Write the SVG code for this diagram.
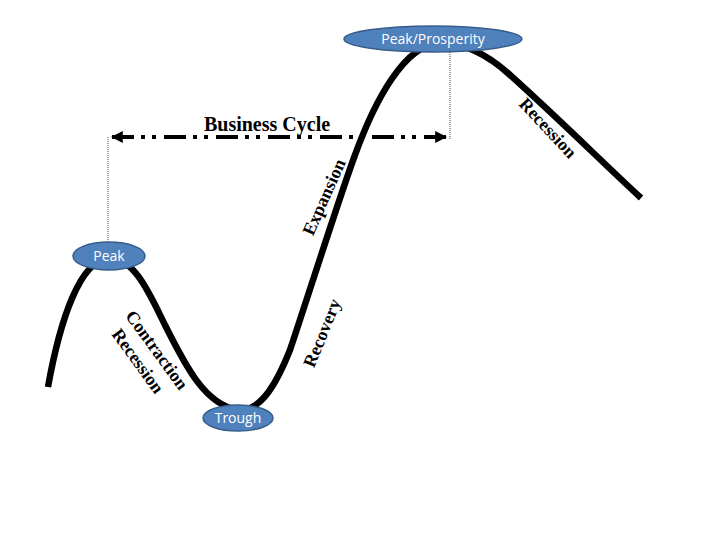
<svg xmlns="http://www.w3.org/2000/svg" width="720" height="540" viewBox="0 0 720 540">
<style>
.curve{fill:none;stroke:#000;stroke-width:6.5;stroke-linecap:butt}
.node ellipse{fill:#4F81BD;stroke:#385D8A;stroke-width:1.5}
.node text{font-family:"Open Sans","Liberation Sans",sans-serif;font-size:14px;fill:#fff;text-anchor:middle}
.lbl{font-family:"Liberation Serif","Times New Roman",serif;font-size:18px;font-weight:bold;fill:#000;text-anchor:middle}
.guide{stroke:#444;stroke-width:1;stroke-dasharray:1 1;fill:none}
.span{stroke:#000;stroke-width:4;stroke-dasharray:22 7 4 7 4 8;fill:none}
</style>
<defs>
<marker id="ah" viewBox="0 0 10 10" refX="9" refY="5" markerWidth="3" markerHeight="3" orient="auto-start-reverse" markerUnits="strokeWidth">
<path d="M0,0 L10,5 L0,10 z" fill="#000"/>
</marker>
</defs>
<g id="connectors">
<path class="curve" d="M48,387 C60,320 80,260 109,258 C135,258 150,295 165,325 C185,365 205,405 238,410 C262,412 278,380 290,350 C302,315 340,195 355,155 C375,100 405,44 440,43 C462,43 485,52 510,75 C560,120 600,160 641,198"/>
<line class="guide" x1="108" y1="137" x2="108" y2="243"/>
<line class="guide" x1="450" y1="52" x2="450" y2="140"/>
<line class="span" x1="112" y1="137" x2="446" y2="137" marker-start="url(#ah)" marker-end="url(#ah)"/>
</g>
<g id="node-peak-prosperity" class="node">
<ellipse cx="433" cy="39" rx="89" ry="13"/>
<text x="433" y="44">Peak/Prosperity</text>
</g>
<g id="node-peak" class="node">
<ellipse cx="109" cy="256" rx="36" ry="14"/>
<text x="109" y="261">Peak</text>
</g>
<g id="node-trough" class="node">
<ellipse cx="238" cy="418" rx="35" ry="13"/>
<text x="238" y="423">Trough</text>
</g>
<g id="labels">
<text class="lbl" x="267" y="131" style="font-size:20px">Business Cycle</text>
<text class="lbl" transform="translate(324,197) rotate(-66)" x="0" y="6">Expansion</text>
<text class="lbl" transform="translate(322,333) rotate(-68)" x="0" y="6">Recovery</text>
<text class="lbl" transform="translate(548,128) rotate(47)" x="0" y="6">Recession</text>
<text class="lbl" transform="translate(157,350) rotate(54)" x="0" y="6">Contraction</text>
<text class="lbl" transform="translate(138,361) rotate(54)" x="0" y="6">Recession</text>
</g>
</svg>
